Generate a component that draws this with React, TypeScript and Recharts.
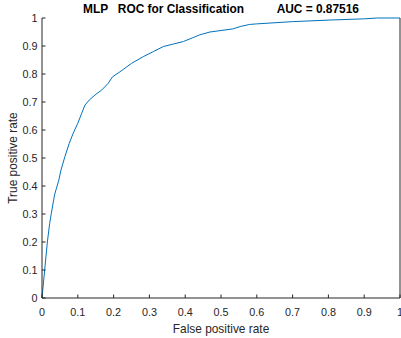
import { LineChart, Line, XAxis, YAxis } from "recharts"

// ROC curve points (false positive rate, true positive rate)
const fprValues = [
    0, 0.0075, 0.015, 0.0215, 0.026, 0.035, 0.039, 0.047, 0.053, 0.064, 0.076, 0.087, 0.1,
    0.111, 0.12, 0.132, 0.148, 0.167, 0.185, 0.197, 0.218, 0.25, 0.283, 0.311, 0.339, 0.37,
    0.395, 0.42, 0.441, 0.469, 0.533, 0.555, 0.58, 0.6, 0.7, 0.81, 0.9, 0.935, 1,
]
const tprValues = [
    0, 0.1, 0.2, 0.267, 0.302, 0.368, 0.386, 0.421, 0.457, 0.505, 0.552, 0.588, 0.624,
    0.66, 0.689, 0.707, 0.725, 0.743, 0.767, 0.79, 0.808, 0.838, 0.862, 0.88, 0.898, 0.908,
    0.916, 0.929, 0.94, 0.95, 0.961, 0.97, 0.977, 0.979, 0.987, 0.993, 0.997, 1, 1,
]
const axisTicks = [0, 0.1, 0.2, 0.3, 0.4, 0.5, 0.6, 0.7, 0.8, 0.9, 1]

const titleText = "MLP   ROC for Classification          AUC = 0.87516"
const xLabel = "False positive rate"
const yLabel = "True positive rate"

const LINE_COLOR = "#0072BD"
const AXIS_COLOR = "#262626"
const FONT = "'Liberation Sans', Arial, Helvetica, sans-serif"

const rocData = fprValues.map((fpr, i) => ({ fpr, tpr: tprValues[i] }))

const tickStyle = { fill: AXIS_COLOR, fontSize: 10.8, fontFamily: FONT }
const noLabel = () => <g />

export default function App() {
    return (
        <div style={{ position: "absolute", left: 0, top: 0, background: "#fff" }}>
            <LineChart
                width={401}
                height={338}
                data={rocData}
                margin={{ top: 18, right: 0, bottom: 0, left: 0 }}
            >
                <XAxis
                    xAxisId="bottom"
                    dataKey="fpr"
                    type="number"
                    domain={[0, 1]}
                    ticks={axisTicks}
                    interval={0}
                    height={40}
                    tickSize={-3.5}
                    tickMargin={13.8}
                    tick={tickStyle}
                    stroke={AXIS_COLOR}
                />
                <XAxis
                    xAxisId="top"
                    dataKey="fpr"
                    type="number"
                    orientation="top"
                    domain={[0, 1]}
                    ticks={axisTicks}
                    interval={0}
                    height={0}
                    tickSize={-3.5}
                    tick={noLabel}
                    stroke={AXIS_COLOR}
                />
                <YAxis
                    yAxisId="left"
                    type="number"
                    domain={[0, 1]}
                    ticks={axisTicks}
                    interval={0}
                    width={42}
                    tickSize={-3.5}
                    tickMargin={8}
                    tick={tickStyle}
                    stroke={AXIS_COLOR}
                />
                <YAxis
                    yAxisId="right"
                    type="number"
                    orientation="right"
                    domain={[0, 1]}
                    ticks={axisTicks}
                    interval={0}
                    width={1}
                    tickSize={-3.5}
                    tick={noLabel}
                    stroke={AXIS_COLOR}
                />
                <Line
                    xAxisId="bottom"
                    yAxisId="left"
                    type="linear"
                    dataKey="tpr"
                    stroke={LINE_COLOR}
                    strokeWidth={1}
                    dot={false}
                    isAnimationActive={false}
                />
                <text
                    x={221}
                    y={13.3}
                    textAnchor="middle"
                    fontFamily={FONT}
                    fontWeight="bold"
                    fontSize={11.9}
                    fill="#000"
                    style={{ whiteSpace: "pre" }}
                >
                    {titleText}
                </text>
                <text
                    x={221}
                    y={332.5}
                    textAnchor="middle"
                    fontFamily={FONT}
                    fontSize={11.9}
                    fill={AXIS_COLOR}
                >
                    {xLabel}
                </text>
                <text
                    x={16.5}
                    y={158}
                    textAnchor="middle"
                    transform="rotate(-90, 16.5, 158)"
                    fontFamily={FONT}
                    fontSize={11.9}
                    fill={AXIS_COLOR}
                >
                    {yLabel}
                </text>
            </LineChart>
        </div>
    )
}
